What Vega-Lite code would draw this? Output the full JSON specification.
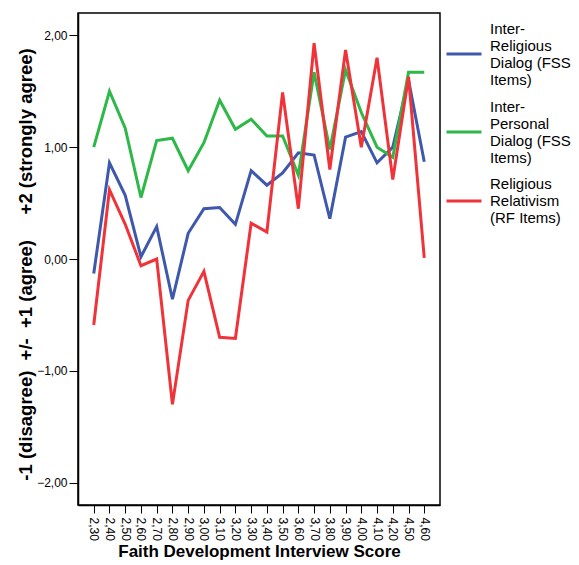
{
  "$schema": "https://vega.github.io/schema/vega-lite/v6.json",
  "width": 362,
  "height": 492,
  "autosize": {"type": "none"},
  "padding": {"left": 78, "top": 13, "right": 139, "bottom": 60},
  "background": "white",
  "config": {
    "view": {"stroke": "black", "strokeWidth": 1.5},
    "font": "Liberation Sans",
    "axis": {"domainColor": "black", "tickColor": "black", "labelColor": "black", "titleColor": "black", "grid": false, "labelFont": "Liberation Sans", "titleFont": "Liberation Sans"}
  },
  "datasets": {
    "scores": [
      {"x": "2,30", "series": "Inter-Religious Dialog (FSS Items)", "v": -0.13},
      {"x": "2,40", "series": "Inter-Religious Dialog (FSS Items)", "v": 0.86},
      {"x": "2,50", "series": "Inter-Religious Dialog (FSS Items)", "v": 0.57},
      {"x": "2,60", "series": "Inter-Religious Dialog (FSS Items)", "v": 0.02},
      {"x": "2,70", "series": "Inter-Religious Dialog (FSS Items)", "v": 0.29},
      {"x": "2,80", "series": "Inter-Religious Dialog (FSS Items)", "v": -0.36},
      {"x": "2,90", "series": "Inter-Religious Dialog (FSS Items)", "v": 0.23},
      {"x": "3,00", "series": "Inter-Religious Dialog (FSS Items)", "v": 0.45},
      {"x": "3,10", "series": "Inter-Religious Dialog (FSS Items)", "v": 0.46},
      {"x": "3,20", "series": "Inter-Religious Dialog (FSS Items)", "v": 0.31},
      {"x": "3,30", "series": "Inter-Religious Dialog (FSS Items)", "v": 0.79},
      {"x": "3,40", "series": "Inter-Religious Dialog (FSS Items)", "v": 0.66},
      {"x": "3,50", "series": "Inter-Religious Dialog (FSS Items)", "v": 0.77},
      {"x": "3,60", "series": "Inter-Religious Dialog (FSS Items)", "v": 0.95},
      {"x": "3,70", "series": "Inter-Religious Dialog (FSS Items)", "v": 0.93},
      {"x": "3,80", "series": "Inter-Religious Dialog (FSS Items)", "v": 0.36},
      {"x": "3,90", "series": "Inter-Religious Dialog (FSS Items)", "v": 1.09},
      {"x": "4,00", "series": "Inter-Religious Dialog (FSS Items)", "v": 1.14},
      {"x": "4,10", "series": "Inter-Religious Dialog (FSS Items)", "v": 0.86},
      {"x": "4,20", "series": "Inter-Religious Dialog (FSS Items)", "v": 1.00},
      {"x": "4,50", "series": "Inter-Religious Dialog (FSS Items)", "v": 1.60},
      {"x": "4,60", "series": "Inter-Religious Dialog (FSS Items)", "v": 0.87},
      {"x": "2,30", "series": "Inter-Personal Dialog (FSS Items)", "v": 1.00},
      {"x": "2,40", "series": "Inter-Personal Dialog (FSS Items)", "v": 1.50},
      {"x": "2,50", "series": "Inter-Personal Dialog (FSS Items)", "v": 1.17},
      {"x": "2,60", "series": "Inter-Personal Dialog (FSS Items)", "v": 0.55},
      {"x": "2,70", "series": "Inter-Personal Dialog (FSS Items)", "v": 1.06},
      {"x": "2,80", "series": "Inter-Personal Dialog (FSS Items)", "v": 1.08},
      {"x": "2,90", "series": "Inter-Personal Dialog (FSS Items)", "v": 0.79},
      {"x": "3,00", "series": "Inter-Personal Dialog (FSS Items)", "v": 1.04},
      {"x": "3,10", "series": "Inter-Personal Dialog (FSS Items)", "v": 1.42},
      {"x": "3,20", "series": "Inter-Personal Dialog (FSS Items)", "v": 1.16},
      {"x": "3,30", "series": "Inter-Personal Dialog (FSS Items)", "v": 1.25},
      {"x": "3,40", "series": "Inter-Personal Dialog (FSS Items)", "v": 1.10},
      {"x": "3,50", "series": "Inter-Personal Dialog (FSS Items)", "v": 1.10},
      {"x": "3,60", "series": "Inter-Personal Dialog (FSS Items)", "v": 0.75},
      {"x": "3,70", "series": "Inter-Personal Dialog (FSS Items)", "v": 1.67},
      {"x": "3,80", "series": "Inter-Personal Dialog (FSS Items)", "v": 0.98},
      {"x": "3,90", "series": "Inter-Personal Dialog (FSS Items)", "v": 1.69},
      {"x": "4,00", "series": "Inter-Personal Dialog (FSS Items)", "v": 1.31},
      {"x": "4,10", "series": "Inter-Personal Dialog (FSS Items)", "v": 1.00},
      {"x": "4,20", "series": "Inter-Personal Dialog (FSS Items)", "v": 0.91},
      {"x": "4,50", "series": "Inter-Personal Dialog (FSS Items)", "v": 1.67},
      {"x": "4,60", "series": "Inter-Personal Dialog (FSS Items)", "v": 1.67},
      {"x": "2,30", "series": "Religious Relativism (RF Items)", "v": -0.59},
      {"x": "2,40", "series": "Religious Relativism (RF Items)", "v": 0.62},
      {"x": "2,50", "series": "Religious Relativism (RF Items)", "v": 0.31},
      {"x": "2,60", "series": "Religious Relativism (RF Items)", "v": -0.06},
      {"x": "2,70", "series": "Religious Relativism (RF Items)", "v": 0.00},
      {"x": "2,80", "series": "Religious Relativism (RF Items)", "v": -1.30},
      {"x": "2,90", "series": "Religious Relativism (RF Items)", "v": -0.37},
      {"x": "3,00", "series": "Religious Relativism (RF Items)", "v": -0.11},
      {"x": "3,10", "series": "Religious Relativism (RF Items)", "v": -0.70},
      {"x": "3,20", "series": "Religious Relativism (RF Items)", "v": -0.71},
      {"x": "3,30", "series": "Religious Relativism (RF Items)", "v": 0.32},
      {"x": "3,40", "series": "Religious Relativism (RF Items)", "v": 0.24},
      {"x": "3,50", "series": "Religious Relativism (RF Items)", "v": 1.49},
      {"x": "3,60", "series": "Religious Relativism (RF Items)", "v": 0.45},
      {"x": "3,70", "series": "Religious Relativism (RF Items)", "v": 1.93},
      {"x": "3,80", "series": "Religious Relativism (RF Items)", "v": 0.80},
      {"x": "3,90", "series": "Religious Relativism (RF Items)", "v": 1.87},
      {"x": "4,00", "series": "Religious Relativism (RF Items)", "v": 1.00},
      {"x": "4,10", "series": "Religious Relativism (RF Items)", "v": 1.80},
      {"x": "4,20", "series": "Religious Relativism (RF Items)", "v": 0.71},
      {"x": "4,50", "series": "Religious Relativism (RF Items)", "v": 1.63},
      {"x": "4,60", "series": "Religious Relativism (RF Items)", "v": 0.01}
    ]
  },
  "data": {"name": "scores"},
  "mark": {"type": "line", "strokeWidth": 3, "strokeJoin": "miter"},
  "encoding": {
    "x": {
      "field": "x",
      "type": "ordinal",
      "sort": null,
      "scale": {"type": "point", "padding": 1.19},
      "axis": {
        "title": "Faith Development Interview Score",
        "titleFontSize": 17,
        "titleFontWeight": "bold",
        "titleBaseline": "middle",
        "titleY": 46,
        "labelAngle": 90,
        "labelFontSize": 12,
        "labelPadding": 4,
        "tickSize": 8,
        "domainWidth": 1.5
      }
    },
    "y": {
      "field": "v",
      "type": "quantitative",
      "scale": {"domain": [-2.2, 2.2], "nice": false, "zero": false},
      "axis": {
        "title": "-1 (disagree)\u00a0\u00a0+/-\u00a0\u00a0+1 (agree)\u00a0\u00a0\u00a0\u00a0\u00a0+2 (strongly agree)",
        "titleFontSize": 18.5,
        "titleFontWeight": "bold",
        "titleAngle": -90,
        "titleAlign": "center",
        "titleBaseline": "middle",
        "titleX": -53,
        "titleY": 251,
        "values": [-2, -1, 0, 1, 2],
        "labelExpr": "replace(format(datum.value, '.2f'), '.', ',')",
        "labelFontSize": 12,
        "labelPadding": 2,
        "tickSize": 9,
        "domainWidth": 1.5
      }
    },
    "color": {
      "field": "series",
      "type": "nominal",
      "scale": {
        "domain": ["Inter-Religious Dialog (FSS Items)", "Inter-Personal Dialog (FSS Items)", "Religious Relativism (RF Items)"],
        "range": ["#3E58AC", "#2EB848", "#EF3338"]
      },
      "legend": {
        "title": null,
        "orient": "none",
        "legendX": 367,
        "legendY": 22,
        "padding": 0,
        "symbolType": "stroke",
        "symbolSize": 1225,
        "symbolStrokeWidth": 3,
        "labelFontSize": 15,
        "labelFont": "Liberation Sans",
        "labelColor": "black",
        "labelOffset": 7,
        "labelLimit": 200,
        "rowPadding": 11,
        "labelExpr": "datum.label == 'Inter-Religious Dialog (FSS Items)' ? ['Inter-', 'Religious', 'Dialog (FSS', 'Items)'] : datum.label == 'Inter-Personal Dialog (FSS Items)' ? ['Inter-', 'Personal', 'Dialog (FSS', 'Items)'] : ['Religious', 'Relativism', '(RF Items)']",
        "encode": {
          "labels": {"update": {"dy": {"signal": "datum.index == 2 ? -17 : -25.5"}}}
        }
      }
    }
  }
}
